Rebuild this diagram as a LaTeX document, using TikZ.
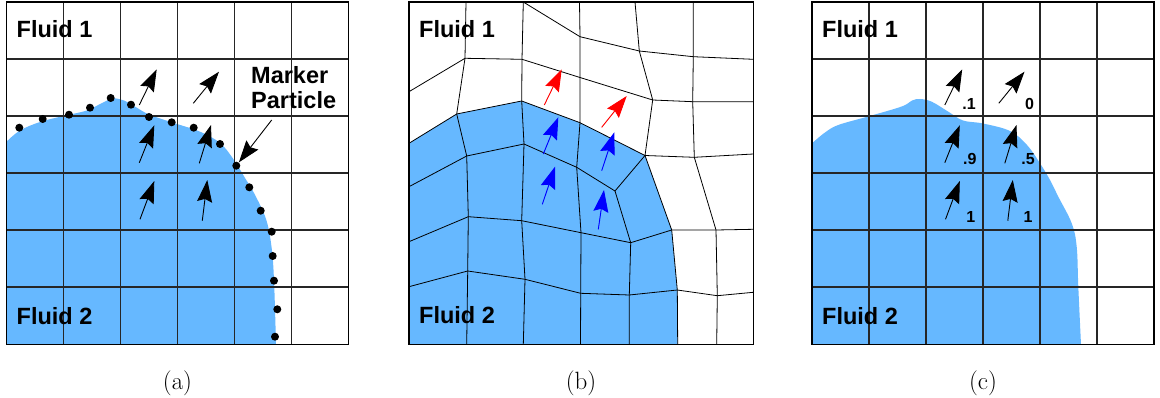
\documentclass[tikz,border=0pt]{standalone}
\usepackage{fontspec}
\newfontfamily\arialfont{Liberation Sans}
\usetikzlibrary{arrows.meta}
\definecolor{fluidblue}{RGB}{102,184,255}
\tikzset{
  gridline/.style={draw=black!85, line width=1.2pt},
  meshline/.style={draw=black, line width=0.8pt, line join=round},
  frameline/.style={draw=black, line width=1.3pt},
  lbl/.style={font=\arialfont\bfseries\fontsize{23.5}{25}\selectfont, anchor=base west, inner sep=0pt},
  fraclbl/.style={font=\arialfont\bfseries\fontsize{16}{16}\selectfont, anchor=base east, inner sep=0pt},
  subcap/.style={font=\fontsize{25}{30}\selectfont, anchor=base, inner sep=0pt},
  normalarrow/.style={line width=0.9pt, -{Stealth[length=22pt,width=15pt,inset=3pt]}},
  dotmark/.style={circle, fill=black, inner sep=0pt, minimum size=8pt}
}
\begin{document}
\begin{tikzpicture}[x=1pt,y=-1pt]
\useasboundingbox (0,0) rectangle (1160,398);
\fill[white] (0,0) rectangle (1160,398);

% ---------------- panel (a) ----------------
\fill[fluidblue] (6.5,344.5) -- plot[smooth, tension=0.6] coordinates {
 (6.5,141.7) (20,130.5) (40,122) (63.3,116) (86.7,110.5) (102,103) (113,98.5)
 (124,100.5) (134,106) (149,114.5) (173,122.7) (200,131.7) (220,143)
 (233.3,159) (245,178) (254,193) (266,219) (271.5,246.7) (274,280) (276,344.5)}
 -- cycle;
\foreach \k in {1,...,5} {
  \draw[gridline] ({6.5+57*\k},2) -- ({6.5+57*\k},344.5);
  \draw[gridline] (6.5,{2+57*\k}) -- (348.5,{2+57*\k});
}
\draw[frameline] (6.5,2) rectangle (348.5,344.5);
\node[lbl] (a-f1) at (16.5,37.7) {Fluid 1};
\node[lbl] (a-f2) at (16.5,324) {Fluid 2};
\node[lbl] (a-m1) at (251,83.3) {Marker};
\node[lbl] (a-m2) at (251,108.3) {Particle};
\foreach \i/\px/\py in {1/19.3/127.7, 2/42.7/119, 3/69/114.7, 4/90/107.7, 5/110.7/98,
  6/131/104.7, 7/149/117, 8/171.7/122.3, 9/193.7/127.7, 10/220/144, 11/236.3/165.7,
  12/249.3/187.3, 13/260.7/210.7, 14/271.7/231.7, 15/272.7/256, 16/274/280.7,
  17/277.3/309.3, 18/275/336.7}
  \node[dotmark] (d\i) at (\px,\py) {};
\coordinate (mk) at (271.7,120);
\draw[normalarrow] (mk) -- (d11);
\foreach \i/\ax/\ay/\bx/\by in {1/139.3/105/156.7/69.3, 2/193.3/103.3/219/71.7,
  3/139.3/162.7/154.3/125.3, 4/199.3/163.3/211/125, 5/140/219.3/154.3/181,
  6/202.3/220.7/207.3/180} {
  \coordinate (as\i) at (\ax,\ay);
  \coordinate (ae\i) at (\bx,\by);
  \draw[normalarrow] (as\i) -- (ae\i);
}

% ---------------- panel (b) ----------------
\fill[fluidblue] (409,344.5) -- (409,143.3) -- (456.7,114) -- (521.7,101) -- (580,122.7)
  -- (645,155.5) -- (671.7,230) -- (677.3,290) -- (677.7,344.5) -- cycle;
% horizontal mesh lines
\draw[meshline] (409,91.7) -- (465,58.3) -- (522,59.3) -- (580,77.5) -- (652.7,100) -- (692.7,101.7) -- (753.3,101.7);
\draw[meshline] (523.3,2) -- (580,36.7) -- (639.3,51) -- (693.3,56.7) -- (753.3,59.3);
\draw[meshline] (409,143.3) -- (456.7,114) -- (521.7,101) -- (580,122.7) -- (645,155.5) -- (694.3,157.3) -- (753.3,154);
\draw[meshline] (409,186.7) -- (466.7,156) -- (524,144) -- (576.7,167.3) -- (615,191) -- (645,155.5);
\draw[meshline] (409,241.7) -- (468.3,216.7) -- (521.7,220.7) -- (581,232.7) -- (630.7,242.7) -- (671.7,230) -- (716,230) -- (753.3,229.3);
\draw[meshline] (409,286.7) -- (467.7,271) -- (525,279.3) -- (580.7,293.3) -- (629.3,295) -- (677.3,290) -- (717.3,295.7) -- (753.3,292.3);
% vertical mesh lines
\draw[meshline] (466,2) -- (465,58.3) -- (456.7,114) -- (466.7,156) -- (468.3,216.7) -- (467.7,271) -- (466.7,344.5);
\draw[meshline] (523.3,2) -- (522,59.3) -- (521.7,101) -- (524,144) -- (521.7,220.7) -- (525,279.3) -- (523.3,344.5);
\draw[meshline] (579.5,2) -- (580,36.7) -- (580,77.5) -- (580,122.7) -- (576.7,167.3) -- (581,232.7) -- (580.7,293.3) -- (580.5,344.5);
\draw[meshline] (635,2) -- (639.3,51) -- (652.7,100) -- (645,155.5) -- (671.7,230) -- (677.3,290) -- (677.7,344.5);
\draw[meshline] (615,191) -- (630.7,242.7) -- (629.3,295) -- (629.3,344.5);
\draw[meshline] (693.3,2) -- (693.3,56.7) -- (692.7,101.7) -- (694.3,157.3) -- (716,230) -- (717.3,295.7) -- (716.7,344.5);
\draw[frameline] (409,2) rectangle (753.3,344.5);
\node[lbl] (b-f1) at (419,37.7) {Fluid 1};
\node[lbl] (b-f2) at (419,323.5) {Fluid 2};
\foreach \i/\ax/\ay/\bx/\by/\c in {1/544.3/105/561.7/69.3/red, 2/601.7/127.3/626.7/96/red,
  3/543.3/154/558.3/117.3/blue, 4/601.7/170.7/614.3/132.3/blue,
  5/542.3/204.3/555/166.7/blue, 6/598.3/229.3/604/190/blue} {
  \coordinate (bs\i) at (\ax,\ay);
  \coordinate (be\i) at (\bx,\by);
  \draw[normalarrow, draw=\c, fill=\c] (bs\i) -- (be\i);
}

% ---------------- panel (c) ----------------
\fill[fluidblue] (812,344.5) -- plot[smooth, tension=0.6] coordinates {
 (812,143.3) (825,132.5) (838.3,125) (868,116.5) (901.7,106.5) (912,100.5) (920,99)
 (931.7,101.7) (948.3,111.7) (963,120.5) (983,123.5) (1010,131) (1027,145)
 (1040,163.3) (1050,180) (1058.3,196.7) (1071.7,223.3) (1076.7,246.7) (1078.3,286.7) (1081,344.5)}
 -- cycle;
\foreach \k in {1,...,5} {
  \draw[gridline] ({812+57*\k},2) -- ({812+57*\k},344.5);
  \draw[gridline] (812,{2+57*\k}) -- (1154,{2+57*\k});
}
\draw[frameline] (812,2) rectangle (1154,344.5);
\node[lbl] (c-f1) at (822,37.7) {Fluid 1};
\node[lbl] (c-f2) at (822,324) {Fluid 2};
\foreach \i/\ax/\ay/\bx/\by in {1/944.8/105/962.2/69.3, 2/998.8/103.3/1024.5/71.7,
  3/944.8/162.7/959.8/125.3, 4/1004.8/163.3/1016.5/125, 5/945.5/219.3/959.8/181,
  6/1007.8/220.7/1012.8/180} {
  \coordinate (cs\i) at (\ax,\ay);
  \coordinate (ce\i) at (\bx,\by);
  \draw[normalarrow] (cs\i) -- (ce\i);
}
\node[fraclbl] (v1) at (976,110) {.1};
\node[fraclbl] (v2) at (1034.3,110) {0};
\node[fraclbl] (v3) at (976.7,165) {.9};
\node[fraclbl] (v4) at (1035,165) {.5};
\node[fraclbl] (v5) at (975.5,222.3) {1};
\node[fraclbl] (v6) at (1032.8,222.3) {1};

% ---------------- captions ----------------
\node[subcap] (capa) at (177.5,389) {(a)};
\node[subcap] (capb) at (581,389) {(b)};
\node[subcap] (capc) at (983,389) {(c)};
\end{tikzpicture}
\end{document}
